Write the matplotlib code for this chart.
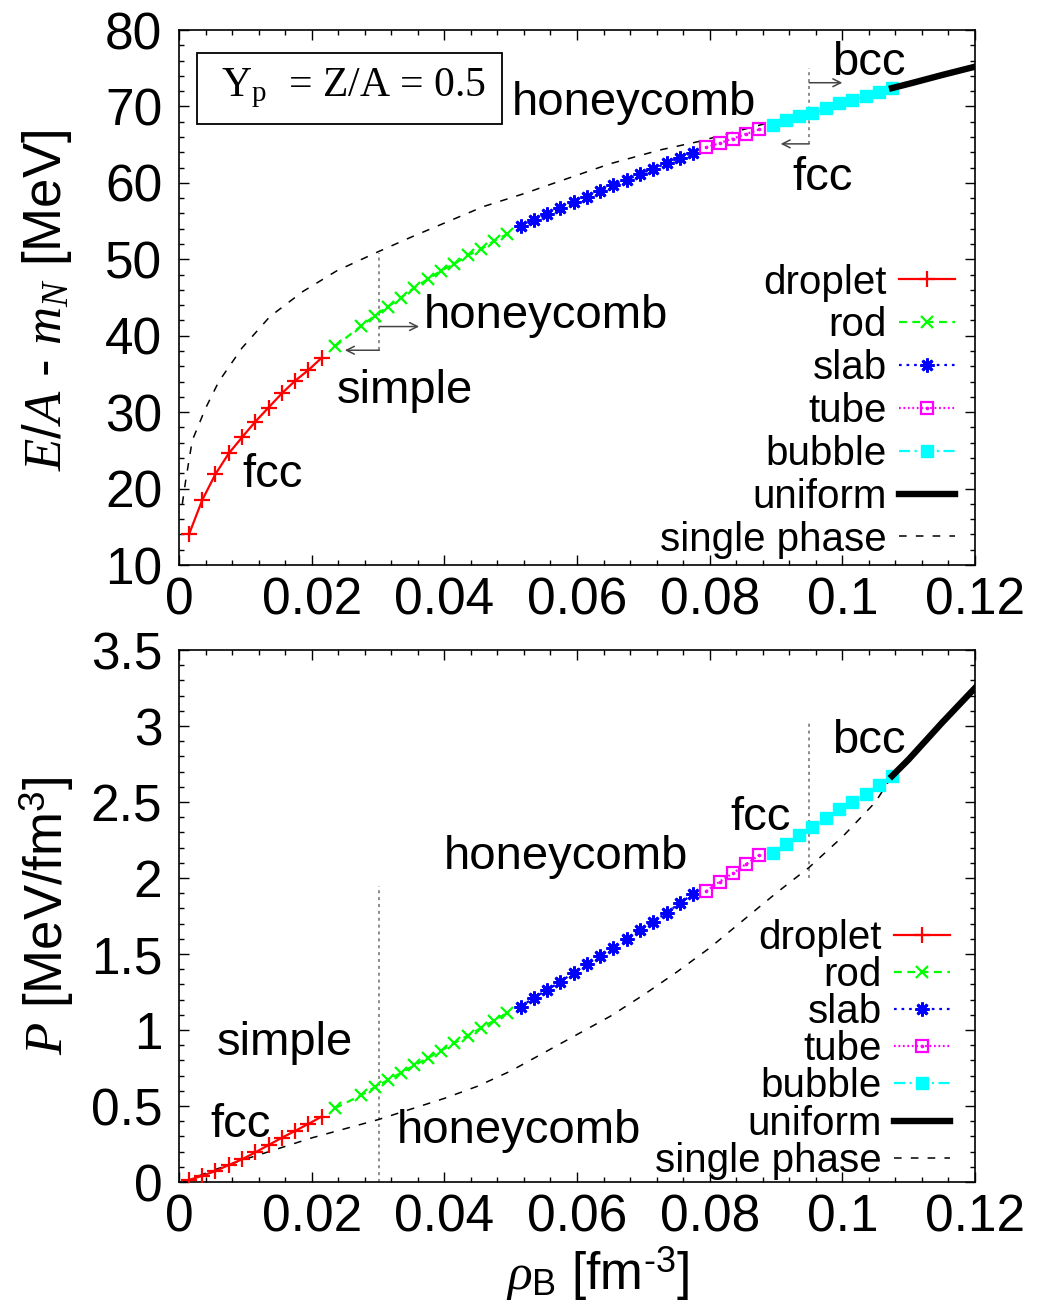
import matplotlib
matplotlib.use('Agg')
import matplotlib.pyplot as plt
from matplotlib.ticker import MultipleLocator

plt.rcParams['font.family'] = ['Liberation Sans', 'DejaVu Sans']
plt.rcParams['mathtext.fontset'] = 'custom'
plt.rcParams['mathtext.rm'] = 'Liberation Sans'
plt.rcParams['mathtext.it'] = 'Liberation Serif:italic'
plt.rcParams['mathtext.sf'] = 'Liberation Sans'

# ---------------- data ----------------
rho_droplet = [0.0015, 0.0035, 0.0055, 0.0075, 0.0095, 0.0115, 0.0135, 0.0155, 0.0175, 0.0195, 0.0215]
E_droplet = [14.0, 18.5, 21.9, 24.6, 26.7, 28.75, 30.6, 32.45, 34.1, 35.5, 37.1]
P_droplet = [0.013, 0.041, 0.072, 0.112, 0.149, 0.195, 0.243, 0.291, 0.336, 0.382, 0.430]

rho_rod = [0.0235, 0.0275, 0.0295, 0.0315, 0.0335, 0.0355, 0.0375, 0.0395, 0.0415, 0.0435, 0.0455, 0.0475, 0.0495]
E_rod = [38.6, 41.3, 42.6, 43.8, 45.0, 46.3, 47.4, 48.5, 49.4, 50.5, 51.3, 52.4, 53.3]
P_rod = [0.485, 0.572, 0.623, 0.671, 0.719, 0.768, 0.815, 0.864, 0.914, 0.963, 1.012, 1.062, 1.114]

rho_slab = [0.0515, 0.0535, 0.0555, 0.0575, 0.0595, 0.0615, 0.0635, 0.0655, 0.0675, 0.0695, 0.0715, 0.0735, 0.0755, 0.0775]
E_slab = [54.3, 55.1, 55.9, 56.75, 57.45, 58.2, 58.97, 59.7, 60.4, 61.15, 61.85, 62.55, 63.25, 63.95]
P_slab = [1.153, 1.213, 1.263, 1.318, 1.377, 1.432, 1.489, 1.542, 1.599, 1.658, 1.713, 1.772, 1.834, 1.895]

rho_tube = [0.0795, 0.0815, 0.0835, 0.0855, 0.0875]
E_tube = [64.65, 65.2, 65.8, 66.4, 67.0]
P_tube = [1.914, 1.976, 2.031, 2.092, 2.151]

rho_bubble = [0.0895, 0.0915, 0.0935, 0.0955, 0.0975, 0.0995, 0.1015, 0.1035, 0.1055, 0.1075]
E_bubble = [67.6, 68.2, 68.7, 69.1, 69.75, 70.4, 70.85, 71.35, 71.9, 72.4]
P_bubble = [2.166, 2.224, 2.283, 2.338, 2.393, 2.452, 2.502, 2.553, 2.612, 2.671]

rho_uniform = [0.1075, 0.110, 0.115, 0.120]
E_uniform = [72.4, 72.95, 74.1, 75.2]
P_uniform = [2.671, 2.78, 3.02, 3.25]

rho_single_E = [0.0005, 0.001, 0.002, 0.004, 0.006, 0.0095, 0.0137, 0.0187, 0.0238, 0.0298,
                0.035, 0.0459, 0.0524, 0.055, 0.065, 0.0725, 0.0783, 0.0886, 0.0956, 0.1, 0.1075]
E_single = [18.0, 21.0, 26.3, 30.5, 34.0, 38.4, 42.5, 45.8, 48.5, 50.9,
            52.9, 56.9, 58.7, 59.5, 62.5, 64.3, 65.4, 67.8, 69.3, 70.4, 72.4]

rho_single_P = [0.0006, 0.005, 0.01, 0.015, 0.02, 0.025, 0.03, 0.035, 0.04, 0.045, 0.05, 0.055,
                0.06, 0.065, 0.07, 0.075, 0.08, 0.085, 0.09, 0.095, 0.1, 0.105, 0.1075]
P_single = [0.0, 0.075, 0.15, 0.22, 0.29, 0.35, 0.41, 0.48, 0.55, 0.63, 0.73, 0.85,
            0.97, 1.09, 1.23, 1.38, 1.54, 1.72, 1.90, 2.07, 2.27, 2.50, 2.671]

labels = ['droplet', 'rod', 'slab', 'tube', 'bubble', 'uniform', 'single phase']

# ---------------- styles ----------------
styles = {
    'droplet': dict(color='#ff0000', ls='-', lw=1.6, marker='+', ms=11, mew=1.6),
    'rod': dict(color='#00ff00', ls=(0, (3.5, 2.5)), lw=1.6, marker='x', ms=8.5, mew=1.6),
    'slab': dict(color='#0000ff', ls=(0, (1.2, 2.2)), lw=1.6, marker=(8, 2, 0), ms=10, mew=2.0),
    'tube': dict(color='#ff00ff', ls=(0, (0.8, 1.2)), lw=1.6, marker='s', ms=8.5, mew=1.6, mfc='none'),
    'bubble': dict(color='#00ffff', ls=(0, (5, 2, 1, 2)), lw=1.6, marker='s', ms=8.5, mew=1.0),
    'uniform': dict(color='black', ls='-', lw=4.6),
    'single phase': dict(color='black', ls=(0, (5, 6)), lw=1.1),
}

fig = plt.figure(figsize=(10.55, 13.11), dpi=100)
ax1 = fig.add_axes([179 / 1055, 1 - 565 / 1311, 796 / 1055, 535 / 1311])
ax2 = fig.add_axes([179 / 1055, 1 - 1182 / 1311, 796 / 1055, 532 / 1311])

series_E = [(rho_droplet, E_droplet), (rho_rod, E_rod), (rho_slab, E_slab), (rho_tube, E_tube),
            (rho_bubble, E_bubble), (rho_uniform, E_uniform), (rho_single_E, E_single)]
series_P = [(rho_droplet, P_droplet), (rho_rod, P_rod), (rho_slab, P_slab), (rho_tube, P_tube),
            (rho_bubble, P_bubble), (rho_uniform, P_uniform), (rho_single_P, P_single)]

gray = '#6e6e6e'
xtick_vals = [0, 0.02, 0.04, 0.06, 0.08, 0.1, 0.12]
xtick_labels = ['0', '0.02', '0.04', '0.06', '0.08', '0.1', '0.12']

handles = {}
for ax, series in ((ax1, series_E), (ax2, series_P)):
    zorders = [3, 3, 3, 3, 3, 4, 2]
    hs = []
    for (x, y), lab, z in zip(series, labels, zorders):
        ln, = ax.plot(x, y, label=lab, zorder=z, **styles[lab])
        if lab == 'tube':
            dot, = ax.plot(x, y, ls='none', marker='o', ms=1.6, color='#ff00ff', zorder=z)
            hs.append((ln, dot))
        else:
            hs.append(ln)
    handles[ax] = hs
    ax.set_xlim(0, 0.12)
    ax.set_xticks(xtick_vals)
    ax.set_xticklabels(xtick_labels)
    ax.xaxis.set_minor_locator(MultipleLocator(0.004))
    ax.tick_params(which='both', direction='in', top=True, right=True, labelsize=37, width=1.0)
    ax.tick_params(which='major', length=7)
    ax.tick_params(axis='x', which='major', pad=8)
    ax.tick_params(axis='y', which='major', pad=12)
    ax.tick_params(which='minor', length=3.5)
    for sp in ax.spines.values():
        sp.set_linewidth(1.2)

# ---- top panel ----
ax1.set_ylim(10, 80)
ax1.yaxis.set_major_locator(MultipleLocator(10))
ax1.yaxis.set_minor_locator(MultipleLocator(2))
ax1.set_ylabel(r'$E/A$ - $m_N$ [MeV]', fontsize=38, va='center')
ax1.yaxis.set_label_coords(-0.166, 0.495)

ax1.legend(handles[ax1], labels, loc='lower right', bbox_to_anchor=(0.975, 0.012), frameon=False,
           markerfirst=False, fontsize=29, handlelength=1.4, handletextpad=0.3, labelspacing=0.12,
           borderpad=0, borderaxespad=0, numpoints=1)

ax1.text(0.0257, 72.35, r' $\mathregular{Y_p}$  = Z/A = 0.5 ', family='Liberation Serif', fontsize=30,
         ha='center', va='center',
         bbox=dict(boxstyle='square,pad=0.34', fc='white', ec='black', lw=1.3))

ax1.text(0.0502, 68.9, 'honeycomb', fontsize=34, ha='left', va='baseline')
ax1.text(0.0984, 74.1, 'bcc', fontsize=34, ha='left', va='baseline')
ax1.text(0.0924, 59.1, 'fcc', fontsize=34, ha='left', va='baseline')
ax1.text(0.0369, 41.05, 'honeycomb', fontsize=34, ha='left', va='baseline')
ax1.text(0.0238, 31.2, 'simple', fontsize=34, ha='left', va='baseline')
ax1.text(0.0096, 20.25, 'fcc', fontsize=34, ha='left', va='baseline')

ax1.plot([0.0302, 0.0302], [38.1, 50.8], color=gray, ls=(0, (2, 2.5)), lw=1.1, zorder=1)
ax1.plot([0.095, 0.095], [65.1, 75.0], color=gray, ls=(0, (2, 2.5)), lw=1.1, zorder=1)
arr = dict(arrowstyle='->', color='#444444', lw=1.1, shrinkA=0, shrinkB=0, mutation_scale=14)
ax1.annotate('', xy=(0.0362, 41.2), xytext=(0.0302, 41.2), arrowprops=arr)
ax1.annotate('', xy=(0.0250, 38.1), xytext=(0.0302, 38.1), arrowprops=arr)
ax1.annotate('', xy=(0.1000, 73.1), xytext=(0.095, 73.1), arrowprops=arr)
ax1.annotate('', xy=(0.0907, 65.1), xytext=(0.095, 65.1), arrowprops=arr)

# ---- bottom panel ----
ax2.set_ylim(0, 3.5)
ax2.set_yticks([0, 0.5, 1, 1.5, 2, 2.5, 3, 3.5])
ax2.set_yticklabels(['0', '0.5', '1', '1.5', '2', '2.5', '3', '3.5'])
ax2.yaxis.set_minor_locator(MultipleLocator(0.1))
ax2.set_ylabel(r'$P$ [MeV/fm$^{3}$]', fontsize=38, va='center')
ax2.yaxis.set_label_coords(-0.166, 0.5)
ax2.set_xlabel('$\\rho_{\\mathrm{B}}$ [fm$^{\\mathrm{\u20103}}$]', fontsize=37, va='baseline')
ax2.xaxis.set_label_coords(0.526, -0.203)

ax2.legend(handles[ax2], labels, loc='lower right', bbox_to_anchor=(0.969, 0.004), frameon=False,
           markerfirst=False, fontsize=29, handlelength=1.4, handletextpad=0.3, labelspacing=-0.02,
           borderpad=0, borderaxespad=0, numpoints=1)

ax2.text(0.0984, 2.82, 'bcc', fontsize=34, ha='left', va='baseline')
ax2.text(0.0831, 2.316, 'fcc', fontsize=34, ha='left', va='baseline')
ax2.text(0.0399, 2.06, 'honeycomb', fontsize=34, ha='left', va='baseline')
ax2.text(0.0057, 0.835, 'simple', fontsize=34, ha='left', va='baseline')
ax2.text(0.0047, 0.298, 'fcc', fontsize=34, ha='left', va='baseline')
ax2.text(0.0328, 0.255, 'honeycomb', fontsize=34, ha='left', va='baseline')

ax2.plot([0.0302, 0.0302], [0.0, 1.95], color=gray, ls=(0, (2, 2.5)), lw=1.1, zorder=1)
ax2.plot([0.095, 0.095], [2.0, 3.03], color=gray, ls=(0, (2, 2.5)), lw=1.1, zorder=1)

fig.savefig('out.png', dpi=100)
